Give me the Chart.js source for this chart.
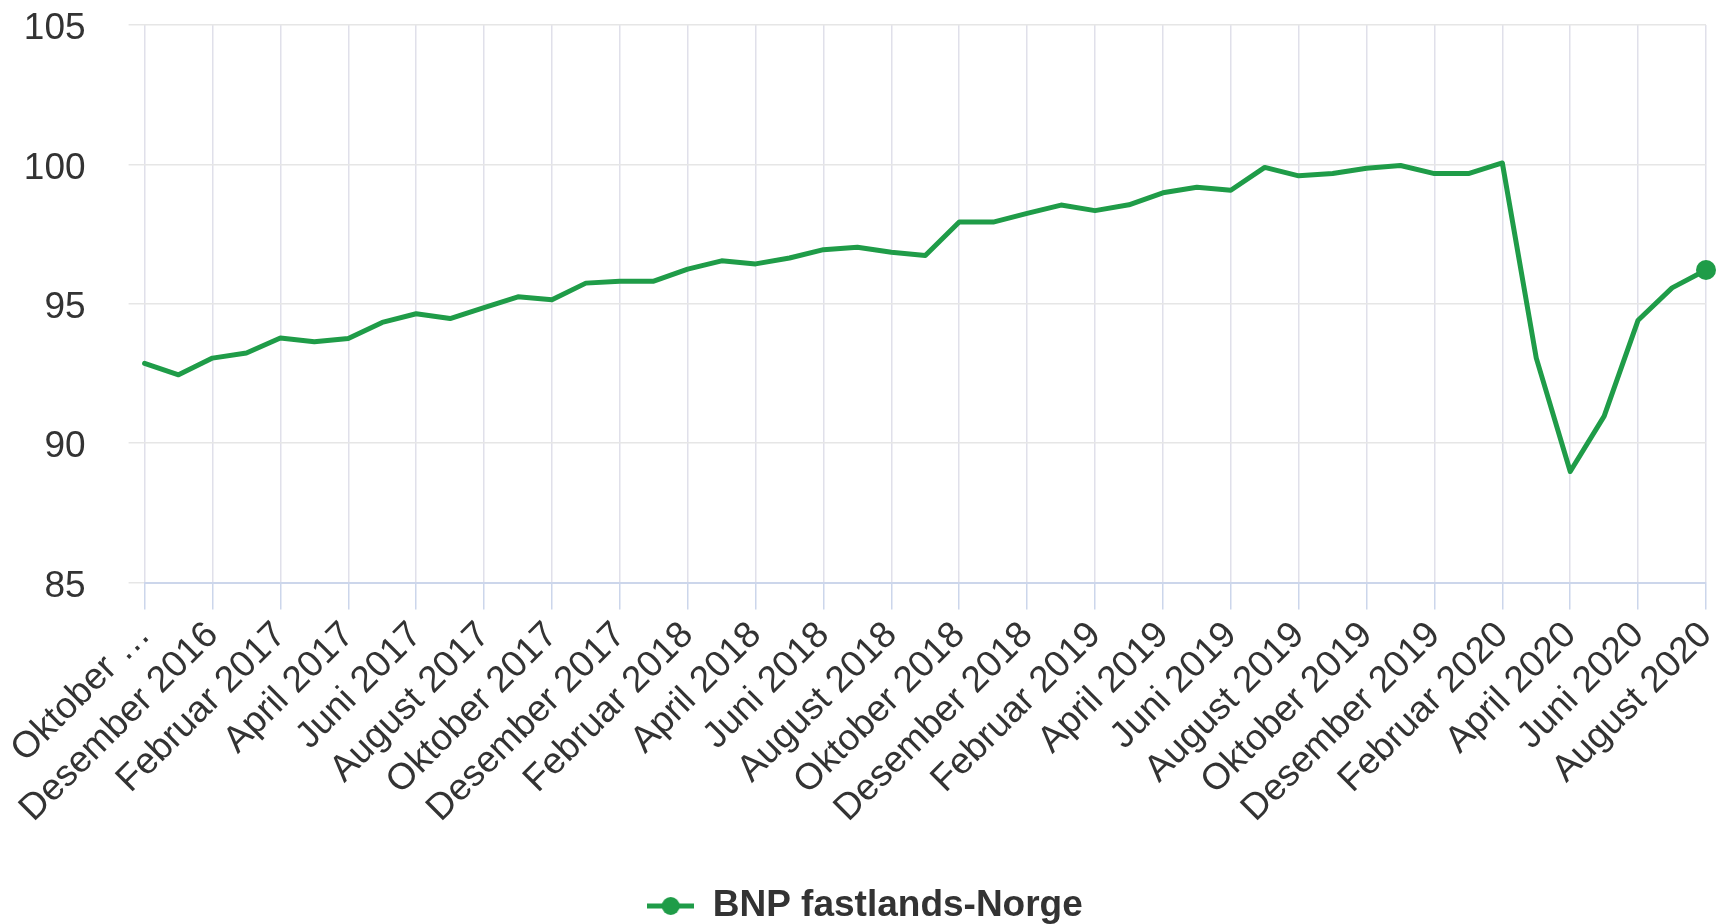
<!DOCTYPE html>
<html lang="no">
<head>
<meta charset="utf-8">
<title>BNP fastlands-Norge</title>
<script src="https://cdn.jsdelivr.net/npm/chart.js@4/dist/chart.umd.min.js"></script>
<style>
  html, body { margin: 0; padding: 0; background: #ffffff; }
  #wrap { width: 1716px; height: 924px; position: relative; }
</style>
</head>
<body>
<div id="wrap"><canvas id="chart" width="1716" height="924"></canvas></div>
<script>
// Months, October 2016 – August 2020
const months = [
  'Oktober 2016', 'November 2016', 'Desember 2016',
  'Januar 2017', 'Februar 2017', 'Mars 2017', 'April 2017', 'Mai 2017', 'Juni 2017',
  'Juli 2017', 'August 2017', 'September 2017', 'Oktober 2017', 'November 2017', 'Desember 2017',
  'Januar 2018', 'Februar 2018', 'Mars 2018', 'April 2018', 'Mai 2018', 'Juni 2018',
  'Juli 2018', 'August 2018', 'September 2018', 'Oktober 2018', 'November 2018', 'Desember 2018',
  'Januar 2019', 'Februar 2019', 'Mars 2019', 'April 2019', 'Mai 2019', 'Juni 2019',
  'Juli 2019', 'August 2019', 'September 2019', 'Oktober 2019', 'November 2019', 'Desember 2019',
  'Januar 2020', 'Februar 2020', 'Mars 2020', 'April 2020', 'Mai 2020', 'Juni 2020',
  'Juli 2020', 'August 2020'
];

// BNP fastlands-Norge, volume index
const bnpValues = [
  92.86, 92.45, 93.05,
  93.23, 93.77, 93.64, 93.75, 94.33, 94.64,
  94.47, 94.86, 95.25, 95.14, 95.74, 95.81,
  95.81, 96.24, 96.54, 96.43, 96.64, 96.94,
  97.03, 96.85, 96.73, 97.93, 97.93, 98.24,
  98.54, 98.34, 98.55, 98.98, 99.18, 99.07,
  99.89, 99.59, 99.67, 99.86, 99.96, 99.67,
  99.67, 100.05, 93.05, 88.98, 90.97, 94.41,
  95.57, 96.21
];

// Labels written under every second month
const tickLabels = [
  'Oktober …', 'Desember 2016', 'Februar 2017', 'April 2017', 'Juni 2017', 'August 2017',
  'Oktober 2017', 'Desember 2017', 'Februar 2018', 'April 2018', 'Juni 2018', 'August 2018',
  'Oktober 2018', 'Desember 2018', 'Februar 2019', 'April 2019', 'Juni 2019', 'August 2019',
  'Oktober 2019', 'Desember 2019', 'Februar 2020', 'April 2020', 'Juni 2020', 'August 2020'
];

const yTicks = [85, 90, 95, 100, 105];

const seriesName = 'BNP fastlands-Norge';
const green = '#1f9c48';
const textColor = '#333333';
const fontFamily = '"Liberation Sans", Arial, Helvetica, sans-serif';

// Legend symbol: short line with a dot in the middle
const legendSymbol = document.createElement('canvas');
legendSymbol.width = 47;
legendSymbol.height = 22;
(function () {
  const c = legendSymbol.getContext('2d');
  c.strokeStyle = green;
  c.lineWidth = 5;
  c.beginPath();
  c.moveTo(0, 11);
  c.lineTo(47, 11);
  c.stroke();
  c.fillStyle = green;
  c.beginPath();
  c.arc(23.5, 11, 9, 0, Math.PI * 2);
  c.fill();
})();

// Only the latest observation carries a marker
const pointRadii = bnpValues.map((v, i) => (i === bnpValues.length - 1 ? 10 : 0));

new Chart(document.getElementById('chart'), {
  type: 'line',
  data: {
    labels: months,
    datasets: [{
      label: seriesName,
      data: bnpValues,
      borderColor: green,
      backgroundColor: green,
      borderWidth: 5,
      borderJoinStyle: 'round',
      borderCapStyle: 'round',
      tension: 0,
      pointRadius: pointRadii,
      pointHoverRadius: pointRadii,
      pointBackgroundColor: green,
      pointBorderWidth: 0,
      clip: false
    }]
  },
  options: {
    responsive: false,
    animation: false,
    events: [],
    layout: { padding: { top: 25, right: 10, bottom: -10.5, left: 24 } },
    scales: {
      x: {
        type: 'category',
        offset: false,
        grid: {
          color: (ctx) => (ctx.index % 2 === 0 ? '#e0e0ea' : 'rgba(0,0,0,0)'),
          tickColor: (ctx) => (ctx.index % 2 === 0 ? '#ccd6eb' : 'rgba(0,0,0,0)'),
          lineWidth: 1.5,
          tickLength: 27,
          drawOnChartArea: true
        },
        border: { display: true, color: '#ccd6eb', width: 2 },
        ticks: {
          autoSkip: false,
          maxRotation: 45,
          minRotation: 45,
          padding: 4,
          color: textColor,
          font: { family: fontFamily, size: 37 },
          callback: (value, index) => (index % 2 === 0 ? tickLabels[index / 2] : '')
        },
        afterFit: (scale) => {
          scale.height = 295;
          scale.paddingLeft = 0;
          scale.paddingRight = 0;
        }
      },
      y: {
        min: 85,
        max: 105,
        afterBuildTicks: (scale) => { scale.ticks = yTicks.map(v => ({ value: v })); },
        grid: { color: '#e6e6e6', lineWidth: 1.5, tickLength: 16 },
        border: { display: false },
        ticks: {
          padding: 43,
          labelOffset: 4,
          color: textColor,
          font: { family: fontFamily, size: 37 }
        },
        afterFit: (scale) => {
          scale.width = 120.6;
          scale.paddingTop = 0;
          scale.paddingBottom = 0;
        }
      }
    },
    plugins: {
      legend: {
        position: 'bottom',
        labels: {
          usePointStyle: true,
          pointStyle: legendSymbol,
          pointStyleWidth: 47,
          padding: 10,
          color: textColor,
          font: { family: fontFamily, size: 37, weight: 'bold' }
        }
      },
      tooltip: { enabled: false }
    }
  }
});
</script>
</body>
</html>
